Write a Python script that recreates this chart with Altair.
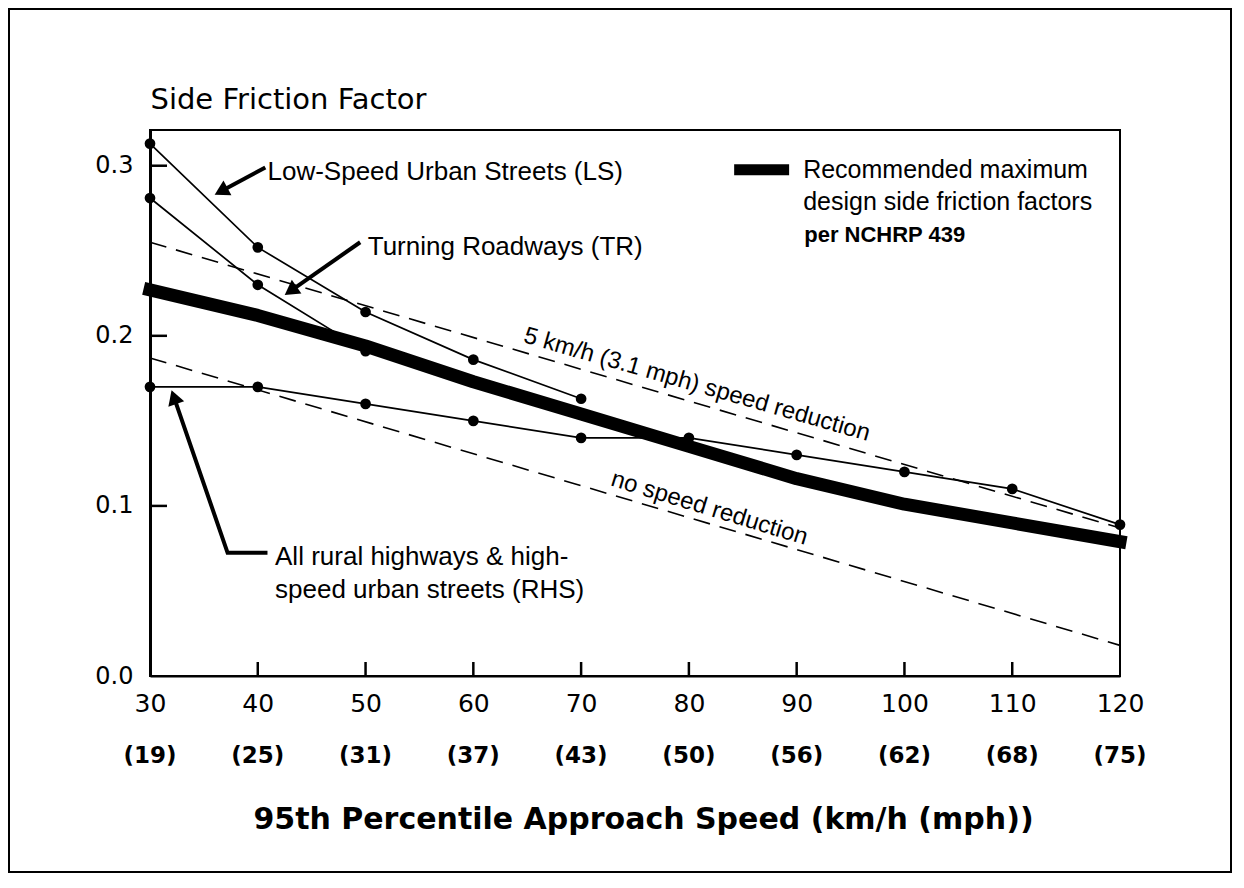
import math
import altair as alt
import pandas as pd

# ---------------- data ----------------
speeds = [30, 40, 50, 60, 70, 80, 90, 100, 110, 120]
mph_labels = ["(19)", "(25)", "(31)", "(37)", "(43)", "(50)", "(56)", "(62)", "(68)", "(75)"]

ls_speeds = [30, 40, 50, 60, 70]
ls_values = [0.313, 0.252, 0.214, 0.186, 0.163]

tr_speeds = [30, 40, 50]
tr_values = [0.281, 0.230, 0.191]

rhs_values = [0.170, 0.170, 0.160, 0.150, 0.140, 0.140, 0.130, 0.120, 0.110, 0.089]

rec_values = [0.227, 0.212, 0.194, 0.173, 0.154, 0.135, 0.116, 0.101, 0.090, 0.079]

dash_speeds = [30, 120]
dash5_values = [0.255, 0.087]
dash0_values = [0.187, 0.018]

y_ticks = [0.0, 0.1, 0.2, 0.3]
x_inner_ticks = [40, 50, 60, 70, 80, 90, 100, 110]
y_inner_ticks = [0.1, 0.2, 0.3]

# ---------------- geometry ----------------
W, H = 970, 546
X_MIN, X_MAX = 30, 120
Y_MAX = 0.321
SX = W / (X_MAX - X_MIN)
SY = H / Y_MAX

FONT_AX = "DejaVu Sans"
FONT_TX = "Liberation Sans, Arial, Helvetica, sans-serif"

X = alt.X(
    "speed:Q",
    scale=alt.Scale(domain=[X_MIN, X_MAX], nice=False, zero=False),
    axis=alt.Axis(
        values=speeds, format="d", ticks=False, tickSize=0, grid=False,
        labelFont=FONT_AX, labelFontSize=25, labelPadding=15, labelFlush=False,
        labelOverlap=False, labelColor="black",
        title="95th Percentile Approach Speed (km/h (mph))",
        titleFont=FONT_AX, titleFontSize=30, titleFontWeight="bold",
        titleColor="black", titleX=493, titleY=152, titleBaseline="alphabetic",
        titleAlign="center",
        domainColor="black", domainWidth=2,
    ),
)
Y = alt.Y(
    "f:Q",
    scale=alt.Scale(domain=[0, Y_MAX], nice=False, zero=True),
    axis=alt.Axis(
        values=y_ticks, format=".1f", ticks=False, tickSize=0, grid=False,
        labelFont=FONT_AX, labelFontSize=24, labelPadding=17, labelColor="black",
        title="Side Friction Factor", titleAngle=0, titleX=0, titleY=-22,
        titleAlign="left", titleBaseline="alphabetic",
        titleFont=FONT_AX, titleFontSize=29, titleFontWeight="normal",
        titleColor="black",
        domainColor="black", domainWidth=3,
    ),
)


def series_df(name, xs, ys):
    return pd.DataFrame({"series": name, "speed": xs, "f": ys})


lines_df = pd.concat([
    series_df("LS", ls_speeds, ls_values),
    series_df("TR", tr_speeds, tr_values),
    series_df("RHS", speeds, rhs_values),
])
rec_df = series_df("REC", speeds, rec_values)
dash_df = pd.concat([
    series_df("5kmh", dash_speeds, dash5_values),
    series_df("none", dash_speeds, dash0_values),
])

# ---------------- arrows (annotation leaders) ----------------
HEAD_SIZE = 280
HEAD_BACK = 0.866 * math.sqrt(HEAD_SIZE) / 2
arrow_paths = {
    "LS": ([40.7, 36.0], [0.299, 0.283]),
    "TR": ([49.5, 42.5], [0.255, 0.224]),
    "RHS": ([40.9, 37.2, 32.0], [0.0724, 0.0724, 0.168]),
}
arrow_rows, head_rows = [], []
for name, (xs, ys) in arrow_paths.items():
    tx, ty = xs[-2], ys[-2]
    hx, hy = xs[-1], ys[-1]
    dx = (hx - tx) * SX
    dy = (hy - ty) * SY
    L = math.hypot(dx, dy)
    cx = hx - dx / L * HEAD_BACK / SX
    cy = hy - dy / L * HEAD_BACK / SY
    ang = math.degrees(math.atan2(dx, dy)) % 360
    head_rows.append({"speed": cx, "f": cy, "angle": ang})
    pts = list(zip(xs[:-1], ys[:-1])) + [(cx, cy)]
    for i, (px, py) in enumerate(pts):
        arrow_rows.append({"arrow": name, "i": i, "speed": px, "f": py})
arrow_df = pd.DataFrame(arrow_rows)
head_df = pd.DataFrame(head_rows)

# ---------------- layers ----------------
border = alt.Chart(pd.DataFrame({"a": [0]})).mark_rect(
    fill="transparent", stroke="black", strokeWidth=2
).encode(
    x=alt.value(-141), x2=alt.value(1081), y=alt.value(-121), y2=alt.value(742)
)

# inward ticks: short rules starting on the axis lines
yticks = alt.Chart(pd.DataFrame({"f": y_inner_ticks})).mark_rule(
    color="black", strokeWidth=2.5, opacity=1
).encode(y=Y, x=alt.value(1), x2=alt.value(17))

xticks = alt.Chart(pd.DataFrame({"speed": x_inner_ticks})).mark_rule(
    color="black", strokeWidth=2.5, opacity=1
).encode(x=X, y=alt.value(H - 14), y2=alt.value(H - 1))

dashed = alt.Chart(dash_df).mark_line(
    color="black", strokeWidth=1.6, strokeDash=[17, 10]
).encode(x=X, y=Y, detail="series:N")

thin = alt.Chart(lines_df).mark_line(color="black", strokeWidth=1.7).encode(
    x=X, y=Y, detail="series:N"
)

thick = alt.Chart(rec_df).mark_line(
    color="black", strokeWidth=13, strokeCap="square", strokeJoin="round"
).encode(x=X, y=Y)

points = alt.Chart(lines_df).mark_point(
    filled=True, color="black", size=115, opacity=1
).encode(x=X, y=Y)

arrows = alt.Chart(arrow_df).mark_line(color="black", strokeWidth=4).encode(
    x=X, y=Y, detail="arrow:N", order="i:Q"
)
heads = alt.Chart(head_df).mark_point(
    shape="triangle-up", filled=True, color="black", size=HEAD_SIZE, opacity=1
).encode(x=X, y=Y, angle=alt.Angle("angle:Q", scale=None))

legend_sample = alt.Chart(pd.DataFrame({"speed": [84.2], "x2": [89.3], "f": [0.2976]})).mark_rule(
    color="black", strokeWidth=11
).encode(x=X, x2="x2:Q", y=Y)


def text_layer(xs, ys, texts, size, weight="normal", angle=0, align="left",
               font=FONT_TX):
    df = pd.DataFrame({"speed": xs, "f": ys, "label": texts})
    kw = dict(font=font, fontSize=size, fontWeight=weight, color="black",
              align=align, baseline="middle")
    if angle:
        kw["angle"] = angle
    return alt.Chart(df).mark_text(**kw).encode(x=X, y=Y, text="label:N")


t_ls = text_layer([40.9], [0.2965], ["Low-Speed Urban Streets (LS)"], 26)
t_tr = text_layer([50.2], [0.252], ["Turning Roadways (TR)"], 26)
t_rhs = text_layer([41.6, 41.6], [0.070, 0.0506],
                   ["All rural highways & high-", "speed urban streets (RHS)"], 26)
t_leg = text_layer([90.6, 90.6], [0.2976, 0.2788],
                   ["Recommended maximum", "design side friction factors"], 25)
t_leg2 = text_layer([90.7], [0.2594], ["per NCHRP 439"], 22, weight="bold")
t_5k = text_layer([80.75], [0.1712], ["5 km/h (3.1 mph) speed reduction"], 24,
                  angle=16, align="center")
t_no = text_layer([81.9], [0.0985], ["no speed reduction"], 24,
                  angle=17, align="center")

mph = alt.Chart(pd.DataFrame({"speed": speeds, "label": mph_labels})).mark_text(
    font=FONT_AX, fontSize=23, fontWeight="bold", color="black",
    align="center", baseline="middle"
).encode(x=X, y=alt.value(H + 80), text="label:N")

chart = alt.layer(
    border, dashed, thin, thick, points, arrows, heads, legend_sample,
    t_ls, t_tr, t_rhs, t_leg, t_leg2, t_5k, t_no, mph, yticks, xticks,
).properties(
    width=W, height=H, padding=0, background="white"
).configure_view(
    stroke="black", strokeWidth=2
)

chart.save("out.html", embed_options={"renderer": "svg", "actions": False})
